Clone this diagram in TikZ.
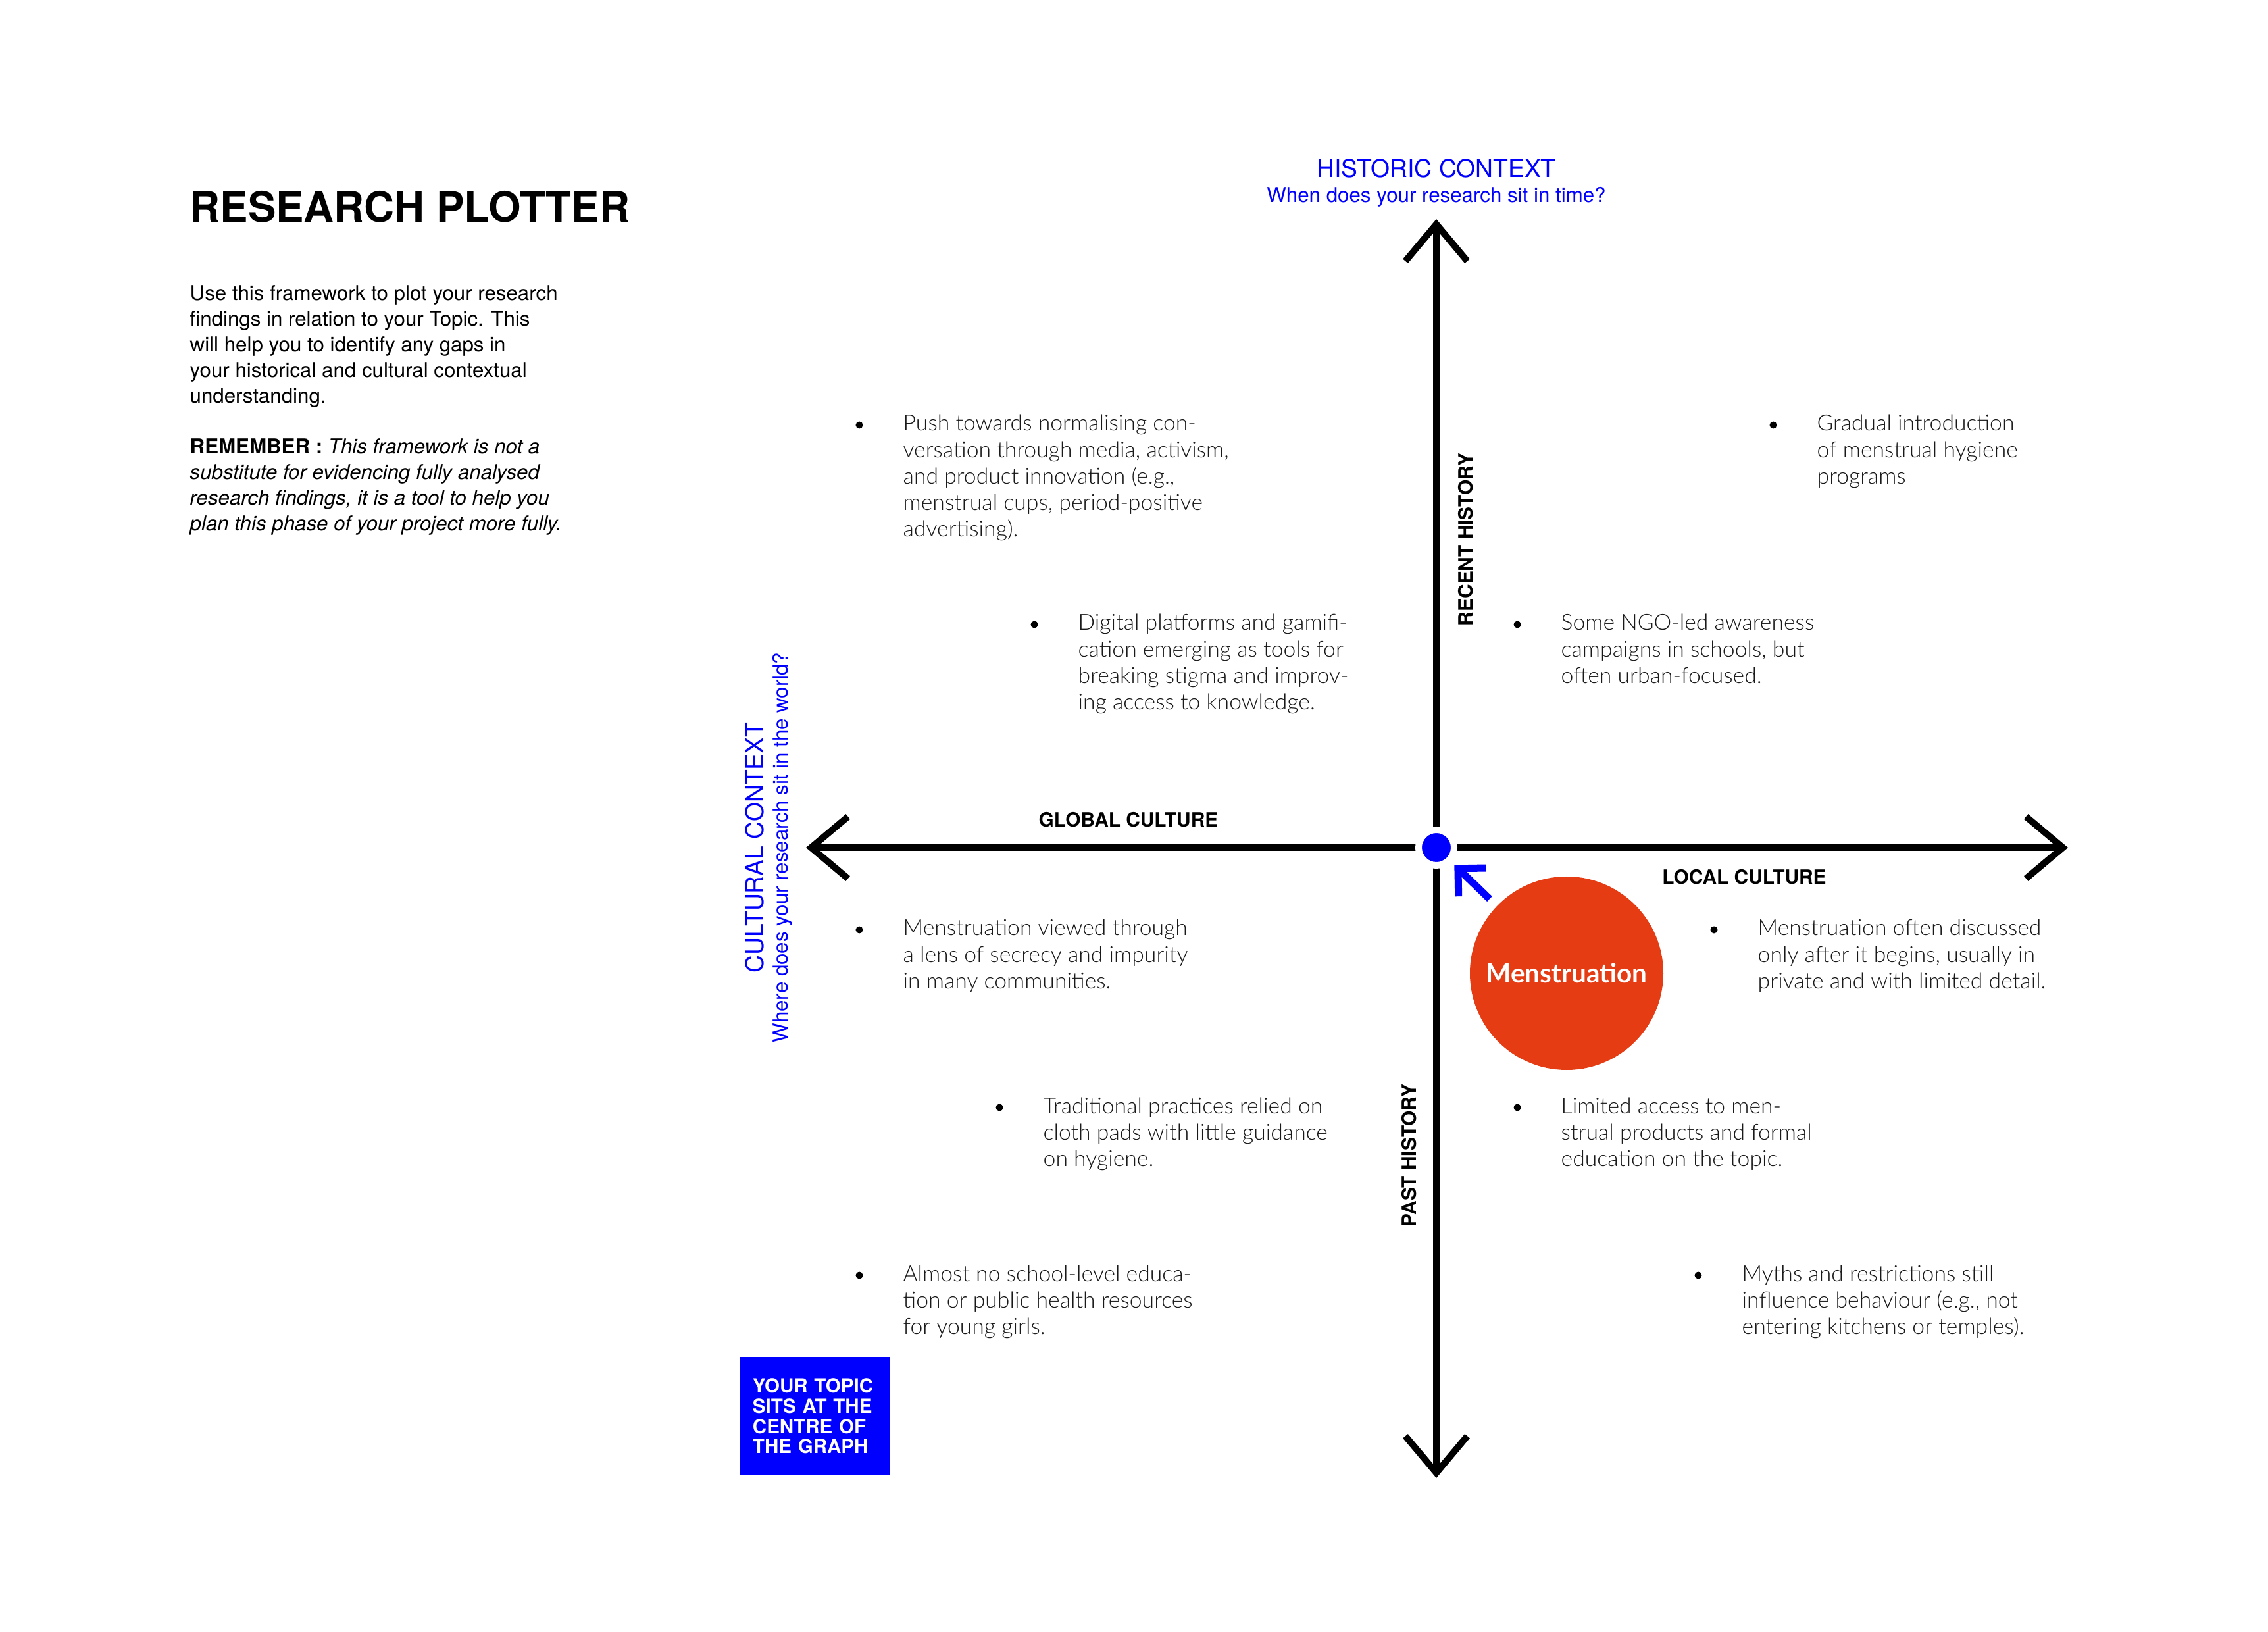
\documentclass[tikz,border=0pt]{standalone}
\usepackage{fontspec}
\setmainfont{TeX Gyre Heros}
\newfontfamily\bodyfont{Lato Light}
\newfontfamily\topicfont{Lato}
\usetikzlibrary{arrows.meta,positioning}

\definecolor{plotblue}{RGB}{0,0,255}
\definecolor{topicred}{RGB}{230,60,20}

% lines stacked from the first baseline down
\newcommand{\textlines}[1]{\begin{tabular}[t]{@{}l@{}}#1\end{tabular}}

\tikzset{
  axis/.style={line width=1mm,
    {Straight Barb[length=5.6mm,width=9.4mm]}-{Straight Barb[length=5.6mm,width=9.4mm]}},
  pointer/.style={draw=plotblue, line width=1.1mm,
    -{Straight Barb[length=3mm,width=6mm]}, shorten <=1.5mm, shorten >=0.6mm},
  axislabel/.style={inner sep=0, font=\bfseries\fontsize{8.5}{10}\selectfont},
  context/.style={inner sep=0, text=plotblue, font=\fontsize{10.6}{12}\selectfont},
  question/.style={inner sep=0, text=plotblue, font=\fontsize{8.9}{10}\selectfont},
  notes/.style={anchor=base west, inner sep=0, font=\fontsize{8.9}{11.06}\selectfont},
  finding/.style={anchor=base west, inner sep=0, text=black!90,
    font=\bodyfont\fontsize{9.6}{11.4}\selectfont},
  bullet/.style={circle, fill=black, inner sep=0, minimum size=1.1mm},
}

\begin{document}
\begin{tikzpicture}
  \useasboundingbox[fill=white] (-21.83,-11.92) rectangle (12.64,12.88);

  % heading and notes
  \node[anchor=base west, inner sep=0, font=\bfseries\fontsize{18.1}{20}\selectfont] (title) at (-18.95,9.50) {RESEARCH PLOTTER};
  \node[notes] (intro) at (-18.95,8.31) {\textlines{Use this framework to plot your research\\
    findings in relation to your Topic. This\\
    will help you to identify any gaps in\\
    your historical and cultural contextual\\
    understanding.}};
  \node[notes] (remember) at (-18.95,5.98) {\textlines{\textbf{REMEMBER :} \textit{This framework is not a}\\
    \textit{substitute for evidencing fully analysed}\\
    \textit{research findings, it is a tool to help you}\\
    \textit{plan this phase of your project more fully.}}};

  % axes
  \coordinate (west) at (-9.58,0);
  \coordinate (east) at (9.6,0);
  \coordinate (north) at (0,9.55);
  \coordinate (south) at (0,-9.58);
  \draw[axis] (west) -- (east);
  \draw[axis] (south) -- (north);
  \node[circle, fill=plotblue, draw=white, line width=1mm, inner sep=0, minimum size=5.4mm] (centre) at (0,0) {};

  \node[context, anchor=base] (historic) at (0,10.18) {HISTORIC CONTEXT};
  \node[question, anchor=base] (time) at (0,9.80) {When does your research sit in time?};
  \node[context, rotate=90, anchor=base] (cultural) at (-10.22,0) {CULTURAL CONTEXT};
  \node[question, rotate=90, anchor=base] (world) at (-9.85,0) {Where does your research sit in the world?};

  \node[axislabel, anchor=base] (global) at (-4.68,0.31) {GLOBAL CULTURE};
  \node[axislabel, anchor=north] (local) at (4.68,-0.33) {LOCAL CULTURE};
  \node[axislabel, rotate=90, anchor=north] (recent) at (0.33,4.68) {RECENT HISTORY};
  \node[axislabel, rotate=90, anchor=base] (past) at (-0.31,-4.68) {PAST HISTORY};

  % topic
  \node[circle, fill=topicred, text=white, inner sep=0, minimum size=2.94cm, font=\topicfont\bfseries\fontsize{11.5}{13}\selectfont] (topic) at (1.98,-1.91) {Menstruation};
  \draw[pointer] (topic) -- (centre);

  \node[fill=plotblue, text=white, minimum width=2.28cm, minimum height=1.8cm, text width=1.88cm, align=left, font=\bfseries\fontsize{8.4}{8.7}\selectfont] (topicbox) at (-9.45,-8.64) {YOUR TOPIC\\SITS AT THE\\CENTRE OF\\THE GRAPH};

  % findings
  \node[finding] (f1) at (-8.11,6.33) {\textlines{Push towards normalising con-\\versation through media, activism,\\and product innovation (e.g.,\\menstrual cups, period-positive\\advertising).}};
  \node[finding] (f2) at (-5.45,3.30) {\textlines{Digital platforms and gamifi-\\cation emerging as tools for\\breaking stigma and improv-\\ing access to knowledge.}};
  \node[finding] (f3) at (5.78,6.33) {\textlines{Gradual introduction\\of menstrual hygiene\\programs}};
  \node[finding] (f4) at (1.89,3.30) {\textlines{Some NGO-led awareness\\campaigns in schools, but\\often urban-focused.}};
  \node[finding] (f5) at (-8.11,-1.34) {\textlines{Menstruation viewed through\\a lens of secrecy and impurity\\in many communities.}};
  \node[finding] (f6) at (-5.98,-4.04) {\textlines{Traditional practices relied on\\cloth pads with little guidance\\on hygiene.}};
  \node[finding] (f7) at (-8.11,-6.59) {\textlines{Almost no school-level educa-\\tion or public health resources\\for young girls.}};
  \node[finding] (f8) at (4.88,-1.34) {\textlines{Menstruation often discussed\\only after it begins, usually in\\private and with limited detail.}};
  \node[finding] (f9) at (1.89,-4.04) {\textlines{Limited access to men-\\strual products and formal\\education on the topic.}};
  \node[finding] (f10) at (4.64,-6.59) {\textlines{Myths and restrictions still\\influence behaviour (e.g., not\\entering kitchens or temples).}};

  \foreach \f in {f1,f2,f3,f4,f5,f6,f7,f8,f9,f10}
    \node[bullet] (b-\f) at ([shift={(-0.66,0.09)}]\f.base west) {};
\end{tikzpicture}
\end{document}
